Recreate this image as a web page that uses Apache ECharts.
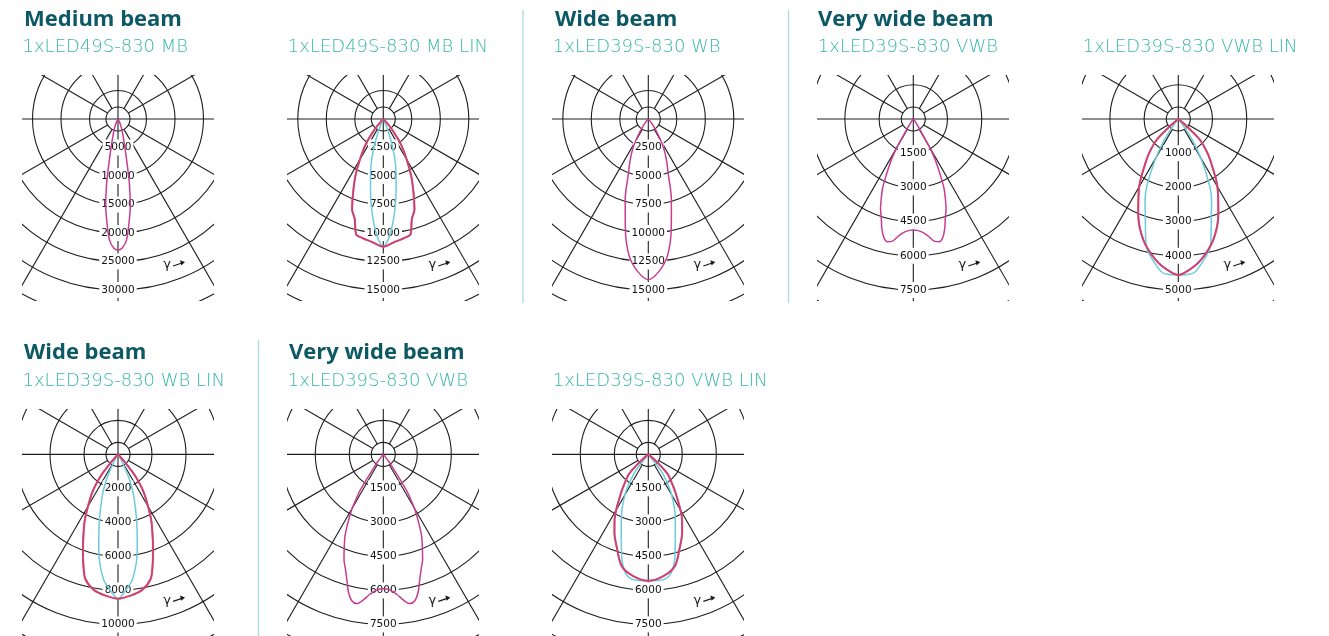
<!DOCTYPE html>
<html>
<head>
<meta charset="utf-8">
<script src="https://cdn.jsdelivr.net/npm/echarts/dist/echarts.min.js"></script>
<style>
  html, body { margin: 0; padding: 0; background: #fff; }
  #chart { width: 1329px; height: 636px; }
</style>
</head>
<body>
<div id="chart"></div>
<script>
// ring labels (cd) per diagram
var mbTicks = [5000, 10000, 15000, 20000, 25000, 30000];
var mbLinTicks = [2500, 5000, 7500, 10000, 12500, 15000];
var wbTicks = [2500, 5000, 7500, 10000, 12500, 15000];
var vwbTicks = [1500, 3000, 4500, 6000, 7500];
var vwbLinTicks = [1000, 2000, 3000, 4000, 5000];
var wbLinTicks = [2000, 4000, 6000, 8000, 10000];
var vwb2Ticks = [1500, 3000, 4500, 6000, 7500];
var vwbLin2Ticks = [1500, 3000, 4500, 6000, 7500];

// intensity curves: gamma (deg) and cd, symmetric around 0
var mbAng = [0, 2, 4, 6, 8, 10, 12, 13, 14, 16, 18, 20, 25, 30, 35, 40];
var mbC0 = [23000, 22600, 21300, 18400, 15500, 11500, 7200, 5800, 4800, 3400, 2600, 2000, 900, 300, 80, 0];

var mbLinAng = [0, 5, 10, 13, 14, 16, 19, 22, 26, 30, 35, 40, 45, 50];
var mbLinC0 = [11200, 10850, 10600, 10450, 10100, 9100, 8400, 7100, 5600, 4100, 2650, 1100, 200, 0];
var mbLinC90Ang = [0, 2, 4, 6, 8, 10, 12, 14, 16, 18, 20, 22, 25, 30, 35];
var mbLinC90 = [11200, 10700, 9800, 8750, 7600, 6450, 5400, 4550, 3700, 2650, 1800, 1000, 450, 80, 0];

var wbAng = [0, 4, 8, 12, 16, 20, 24, 28, 32, 36, 40, 45];
var wbC0 = [14100, 13400, 12100, 9700, 7350, 5100, 3900, 2850, 1650, 800, 250, 0];

var vwbAng = [0, 4, 7, 10, 12, 14, 16, 18, 20, 22, 24, 26, 28, 29, 30, 31, 33, 36, 40];
var vwbC0 = [4870, 4950, 5150, 5450, 5500, 5350, 5000, 4550, 4200, 3750, 3300, 2650, 2100, 1800, 1350, 800, 350, 120, 0];

var vwbLinAng = [0, 4, 9, 16, 23, 30, 38, 42, 46, 48, 50, 55];
var vwbLinC0 = [4560, 4430, 4180, 3690, 3000, 2290, 1510, 1200, 880, 500, 200, 0];
var vwbLinC90Ang = [0, 5.6, 9.2, 14, 17, 19.3, 22, 25, 29.6, 33.7, 36, 40, 45];
var vwbLinC90 = [4560, 4530, 4275, 3850, 3290, 2920, 2600, 2185, 1380, 740, 300, 80, 0];

var wbLinAng = [0, 5, 10, 14.5, 17, 20, 23.4, 26.6, 30, 33.4, 36, 38.8, 40.6, 43, 46];
var wbLinC0 = [8600, 8450, 8200, 7670, 6950, 6030, 5100, 4360, 3500, 2800, 2200, 1490, 750, 250, 0];
var wbLinC90Ang = [0, 2.6, 6.6, 11.3, 15.7, 21.1, 24, 26, 28, 30, 34, 38];
var wbLinC90 = [8600, 8220, 7480, 5780, 4050, 2500, 1700, 1100, 600, 300, 80, 0];

var vwb2Ang = [0, 3, 5.4, 8, 10, 12, 14, 16, 18, 20.3, 22.5, 24.8, 27, 29.4, 31, 32.4, 34, 35.5, 37, 40, 44];
var vwb2C0 = [6010, 6080, 6280, 6600, 6770, 6690, 6350, 5830, 5400, 5000, 4500, 4030, 3450, 2850, 2350, 1920, 1050, 650, 440, 100, 0];

var vwbLin2Ang = [0, 7.2, 13.3, 18.5, 23, 27, 34.7, 38.7, 44.3, 48, 52, 56];
var vwbLin2C0 = [5650, 5470, 5120, 4380, 3820, 3280, 2130, 1680, 1210, 530, 100, 0];
var vwbLin2C90Ang = [0, 4, 7.5, 10.5, 13.7, 15.9, 22.2, 30.1, 36.4, 38, 42, 46];
var vwbLin2C90 = [5650, 5650, 5620, 5430, 4890, 4330, 3160, 2030, 1080, 450, 100, 0];

var headings = ['Medium beam', 'Wide beam', 'Very wide beam', 'Wide beam', 'Very wide beam'];
var models = ['1xLED49S-830 MB', '1xLED49S-830 MB LIN', '1xLED39S-830 WB', '1xLED39S-830 VWB', '1xLED39S-830 VWB LIN',
  '1xLED39S-830 WB LIN', '1xLED39S-830 VWB', '1xLED39S-830 VWB LIN'];

var MAG = '#c63c93', CYAN = '#6ccbdc', ORANGE = '#e0683a', GRID = '#1e1e1e';
var HEAD = '#0d5865', SUB = '#36b7a7', SEP = '#a9ddd7';

var cols = [118, 383.3, 648.3, 913.3, 1178.3];
var panels = [
  { cx: cols[0], row: 0, ticks: mbTicks, curves: [[mbAng, mbC0, MAG]] },
  { cx: cols[1], row: 0, ticks: mbLinTicks, curves: [[mbLinC90Ang, mbLinC90, CYAN], [mbLinAng, mbLinC0, ORANGE, 1], [mbLinAng, mbLinC0, MAG]] },
  { cx: cols[2], row: 0, ticks: wbTicks, curves: [[wbAng, wbC0, MAG]] },
  { cx: cols[3], row: 0, ticks: vwbTicks, curves: [[vwbAng, vwbC0, MAG]] },
  { cx: cols[4], row: 0, ticks: vwbLinTicks, curves: [[vwbLinC90Ang, vwbLinC90, CYAN], [vwbLinAng, vwbLinC0, ORANGE, 1], [vwbLinAng, vwbLinC0, MAG]] },
  { cx: cols[0], row: 1, ticks: wbLinTicks, curves: [[wbLinC90Ang, wbLinC90, CYAN], [wbLinAng, wbLinC0, ORANGE, 1], [wbLinAng, wbLinC0, MAG]] },
  { cx: cols[1], row: 1, ticks: vwb2Ticks, curves: [[vwb2Ang, vwb2C0, MAG]] },
  { cx: cols[2], row: 1, ticks: vwbLin2Ticks, curves: [[vwbLin2C90Ang, vwbLin2C90, CYAN], [vwbLin2Ang, vwbLin2C0, ORANGE, 1], [vwbLin2Ang, vwbLin2C0, MAG]] }
];
// row geometry: clip top, height, center offset, px to last ring
var rows = [{ top: 75, h: 226, off: 44, rpx: 171 }, { top: 409, h: 230, off: 46, rpx: 170 }];
var HALFW = 95.5, INNER = 12;

function toXY(ang, val) {
  var pts = [];
  function pt(g, v) {
    var a = g * Math.PI / 180;
    return [v * Math.sin(a), -v * Math.cos(a)];
  }
  for (var i = ang.length - 1; i > 0; i--) pts.push(pt(-ang[i], val[i]));
  for (var j = 0; j < ang.length; j++) pts.push(pt(ang[j], val[j]));
  return pts;
}

function ringItem(params, api) {
  var c = api.coord([0, 0]);
  var v = api.value(0);
  var r = api.size([v, 0])[0];
  var kids = [{ type: 'circle', shape: { cx: c[0], cy: c[1], r: r }, style: { fill: 'none', stroke: GRID, lineWidth: 1.1 } }];
  if (api.value(1)) {
    kids.push({
      type: 'text', x: c[0], y: c[1] + r, z2: 10,
      style: { text: String(v), align: 'center', verticalAlign: 'middle', fill: '#111',
        font: '10.5px "DejaVu Sans"', backgroundColor: '#fff', padding: [3, 2, 2, 2] }
    });
  }
  return { type: 'group', children: kids };
}

function spokeItem(params, api) {
  var c = api.coord([0, 0]);
  var deg = api.value(0);
  var a = deg * Math.PI / 180;
  var dx = Math.sin(a), dy = Math.cos(a);
  var r0 = deg % 90 === 0 ? 0 : INNER;
  var kids = [{ type: 'line', shape: { x1: c[0] + dx * r0, y1: c[1] + dy * r0, x2: c[0] + dx * 400, y2: c[1] + dy * 400 },
    style: { stroke: GRID, lineWidth: 1.1 } }];
  if (params.dataIndex === 0) {
    kids.push({ type: 'circle', shape: { cx: c[0], cy: c[1], r: INNER }, style: { fill: 'none', stroke: GRID, lineWidth: 1.1 } });
    var gx = c[0] + 49, gy = c[1] + 146;
    kids.push({ type: 'text', x: gx, y: gy, style: { text: 'γ', align: 'center', verticalAlign: 'middle', fill: '#1a1a1a', font: '13px "DejaVu Sans"' } });
    kids.push({ type: 'line', shape: { x1: gx + 6, y1: gy + 1, x2: gx + 15, y2: gy - 2 }, style: { stroke: '#1a1a1a', lineWidth: 1.2 } });
    kids.push({ type: 'polygon', shape: { points: [[gx + 18, gy - 3], [gx + 13, gy - 4.8], [gx + 14.3, gy + 0.4]] }, style: { fill: '#1a1a1a' } });
  }
  return { type: 'group', children: kids };
}

var grids = [], xAxes = [], yAxes = [], series = [];
panels.forEach(function (p, i) {
  var row = rows[p.row];
  var n = p.ticks.length;
  var upp = p.ticks[n - 1] / row.rpx;
  var left = p.cx - HALFW;
  grids.push({ left: left, top: row.top, width: HALFW * 2, height: row.h, show: false });
  xAxes.push({ type: 'value', gridIndex: i, min: -HALFW * upp, max: HALFW * upp, show: false });
  yAxes.push({ type: 'value', gridIndex: i, min: -(row.h - row.off) * upp, max: row.off * upp, show: false });
  var step = p.ticks[0];
  var ringData = p.ticks.map(function (v) { return [v, 1]; });
  ringData.push([step * (n + 1), 0], [step * (n + 2), 0]);
  series.push({ type: 'custom', xAxisIndex: i, yAxisIndex: i, clip: true, z: 1, silent: true,
    data: [0, 30, 60, 90, 120, 150, 180, 210, 240, 270, 300, 330].map(function (d) { return [d]; }),
    renderItem: spokeItem });
  series.push({ type: 'custom', xAxisIndex: i, yAxisIndex: i, clip: true, z: 2, silent: true,
    data: ringData, renderItem: ringItem });
  p.curves.forEach(function (cv) {
    series.push({ type: 'line', xAxisIndex: i, yAxisIndex: i, z: 4, silent: true,
      data: toXY(cv[0], cv[1]), smooth: 0.3, symbol: 'none',
      lineStyle: { color: cv[2], width: cv[3] ? 2.1 : 1.5 } });
  });
});

var graphic = [];
var headPos = [[24, 20], [555, 20], [818, 20], [24, 353], [289, 353]];
headings.forEach(function (t, i) {
  graphic.push({ type: 'text', x: headPos[i][0], y: headPos[i][1],
    style: { text: t, font: 'bold 22px "Open Sans"', fill: HEAD, verticalAlign: 'middle' } });
});
models.forEach(function (t, i) {
  var p = panels[i];
  graphic.push({ type: 'text', x: p.cx - HALFW, y: p.row ? 381 : 47.5,
    style: { text: t, font: '200 18px "DejaVu Sans"', fill: SUB, verticalAlign: 'middle' } });
});
[[523, 10, 303], [788.5, 10, 303], [258.5, 340, 636]].forEach(function (s) {
  graphic.push({ type: 'line', shape: { x1: s[0], y1: s[1], x2: s[0], y2: s[2] }, style: { stroke: SEP, lineWidth: 1.3 } });
});

var chart = echarts.init(document.getElementById('chart'));
chart.setOption({
  animation: false,
  grid: grids,
  xAxis: xAxes,
  yAxis: yAxes,
  series: series,
  graphic: graphic
});
</script>
</body>
</html>
